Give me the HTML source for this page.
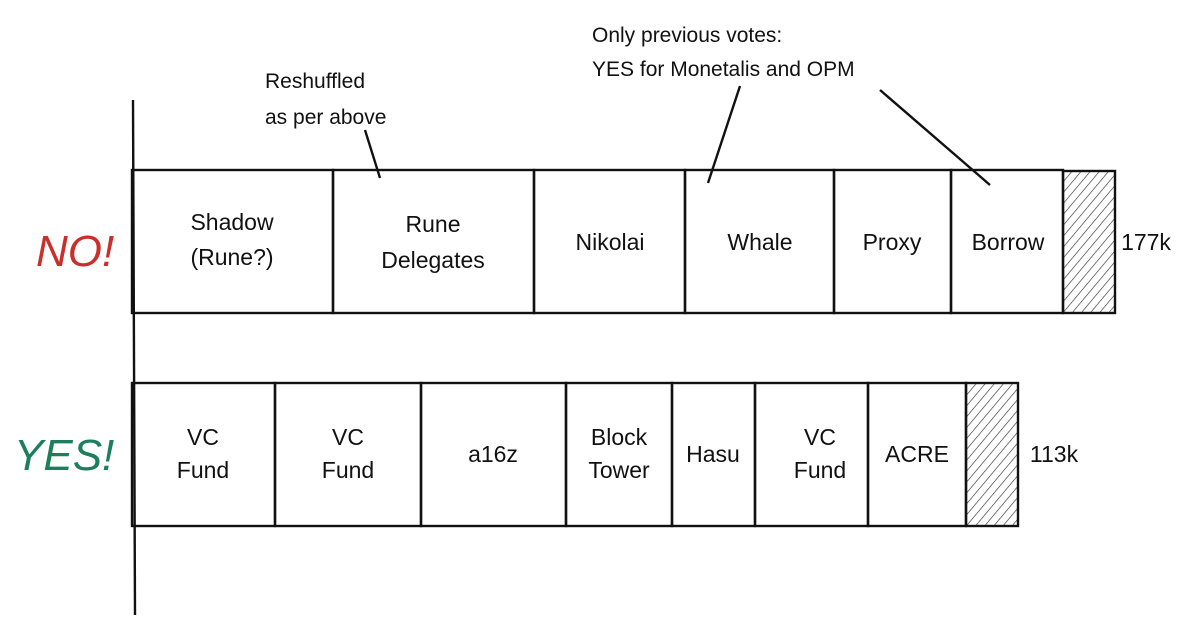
<!DOCTYPE html>
<html><head><style>
body{margin:0;width:1200px;height:635px;background:#fff;overflow:hidden}
svg text{font-family:"Liberation Sans",sans-serif;fill:#111}
</style></head><body>
<svg width="1200" height="635" viewBox="0 0 1200 635">
<defs>
<pattern id="h" patternUnits="userSpaceOnUse" width="7" height="7" patternTransform="rotate(40)">
<line x1="0" y1="0" x2="0" y2="7" stroke="#333" stroke-width="1.3"/>
</pattern>
</defs>
<g stroke="#111" stroke-width="2.4" fill="none">
<line x1="133" y1="100" x2="135" y2="615"/>
<line x1="365" y1="130" x2="380" y2="178"/>
<line x1="740" y1="86" x2="708" y2="183"/>
<line x1="880" y1="90" x2="990" y2="185"/>
<rect x="1063" y="171" width="52" height="142" fill="url(#h)"/>
<rect x="966" y="383" width="52" height="143" fill="url(#h)"/>
<rect x="132" y="170" width="201" height="143"/>
<rect x="333" y="170" width="201" height="143"/>
<rect x="534" y="170" width="151" height="143"/>
<rect x="685" y="170" width="149" height="143"/>
<rect x="834" y="170" width="117" height="143"/>
<rect x="951" y="170" width="112" height="143"/>
<rect x="132" y="383" width="143" height="143"/>
<rect x="275" y="383" width="146" height="143"/>
<rect x="421" y="383" width="145" height="143"/>
<rect x="566" y="383" width="106" height="143"/>
<rect x="672" y="383" width="83" height="143"/>
<rect x="755" y="383" width="113" height="143"/>
<rect x="868" y="383" width="98" height="143"/>
</g>
<g font-size="23" text-anchor="middle">
<text x="232" y="230">Shadow</text><text x="232" y="265">(Rune?)</text>
<text x="433" y="232">Rune</text><text x="433" y="268">Delegates</text>
<text x="610" y="250">Nikolai</text>
<text x="760" y="250">Whale</text>
<text x="892" y="250">Proxy</text>
<text x="1008" y="250">Borrow</text>
<text x="1146" y="250">177k</text>
<text x="203" y="445">VC</text><text x="203" y="478">Fund</text>
<text x="348" y="445">VC</text><text x="348" y="478">Fund</text>
<text x="493" y="462">a16z</text>
<text x="619" y="445">Block</text><text x="619" y="478">Tower</text>
<text x="713" y="462">Hasu</text>
<text x="820" y="445">VC</text><text x="820" y="478">Fund</text>
<text x="917" y="462">ACRE</text>
<text x="1054" y="462">113k</text>
</g>
<g font-size="21">
<text x="265" y="88">Reshuffled</text>
<text x="265" y="124">as per above</text>
<text x="592" y="42">Only previous votes:</text>
<text x="592" y="76">YES for Monetalis and OPM</text>
</g>
<text x="36" y="266" font-size="44" style="fill:#c9302c;font-style:italic">NO!</text>
<text x="14" y="470" font-size="44" style="fill:#1a7f5a;font-style:italic">YES!</text>
</svg>
</body></html>
